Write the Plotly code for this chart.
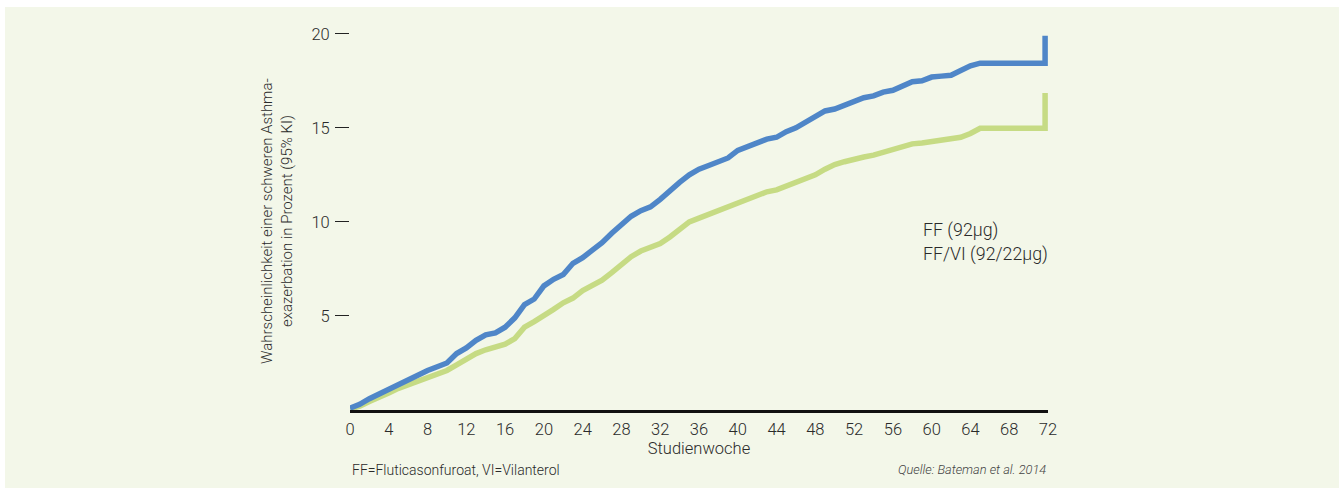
import plotly.graph_objects as go

# ---- data ----
weeks = list(range(0, 66)) + [71.7, 71.7]

ff_92 = [0.1, 0.3, 0.6, 0.85, 1.15, 1.4, 1.65, 1.9, 2.1, 2.3,
         2.5, 3.0, 3.3, 3.7, 4.0, 4.1, 4.4, 4.9, 5.6, 5.9,
         6.6, 6.95, 7.2, 7.8, 8.1, 8.5, 8.9, 9.4, 9.9, 10.3,
         10.6, 10.8, 11.2, 11.7, 12.1, 12.5, 12.8, 13.0, 13.2, 13.4,
         13.8, 14.0, 14.2, 14.4, 14.5, 14.8, 15.0, 15.3, 15.6, 15.9,
         16.0, 16.2, 16.4, 16.6, 16.7, 16.9, 17.0, 17.2, 17.45, 17.5,
         17.7, 17.75, 17.8, 18.05, 18.3, 18.44,
         18.44, 19.9]

ff_vi = [0.05, 0.2, 0.45, 0.65, 0.9, 1.15, 1.35, 1.55, 1.7, 1.9,
         2.1, 2.4, 2.7, 3.0, 3.2, 3.35, 3.5, 3.8, 4.4, 4.7,
         5.0, 5.35, 5.7, 5.95, 6.35, 6.6, 6.9, 7.3, 7.7, 8.15,
         8.45, 8.65, 8.85, 9.2, 9.6, 10.0, 10.2, 10.4, 10.6, 10.8,
         11.0, 11.2, 11.4, 11.6, 11.7, 11.9, 12.05, 12.25, 12.5, 12.8,
         13.05, 13.2, 13.35, 13.45, 13.55, 13.7, 13.85, 14.0, 14.15, 14.2,
         14.27, 14.3, 14.36, 14.5, 14.7, 14.98,
         14.98, 16.85]

series_names = ["FF (92µg)", "FF/VI (92/22µg)"]
x_ticks = list(range(0, 73, 4))
y_ticks = [5, 10, 15, 20]

FONT = "Roboto, Liberation Sans, Arial, sans-serif"
WEIGHT = 300
BLUE = "#4F86C8"
GREEN = "#C6DB84"
BG = "#F3F7E9"
TXT = "#2a2a2a"

fig = go.Figure()
fig.add_trace(go.Scatter(x=weeks, y=ff_vi, mode="lines", name=series_names[1],
                         line=dict(color=GREEN, width=5.5, shape="linear")))
fig.add_trace(go.Scatter(x=weeks, y=ff_92, mode="lines", name=series_names[0],
                         line=dict(color=BLUE, width=5.5, shape="linear")))

L, R, T, B = 350, 1048, 15, 410
W = R - L
H = B - T

def px(xp):
    return (xp - L) / W

def py(yp):
    return (B - yp) / H

def f(size, color=TXT):
    return dict(family=FONT, size=size, color=color, weight=WEIGHT)

fig.update_layout(
    width=1344, height=490,
    margin=dict(l=L, r=1344 - R, t=T, b=490 - B),
    paper_bgcolor="white",
    plot_bgcolor="rgba(0,0,0,0)",
    showlegend=False,
    font=f(16),
    xaxis=dict(range=[0, 72], tickvals=x_ticks, ticks="", showgrid=False,
               zeroline=False, showline=True, linecolor="#111", linewidth=2.5,
               tickfont=f(16.5), ticklabelstandoff=2,
               title=dict(text="Studienwoche", font=f(16.5), standoff=5)),
    yaxis=dict(range=[0, 21], tickvals=y_ticks, ticks="outside", ticklen=14,
               tickwidth=1.3, tickcolor="#222", showgrid=False, zeroline=False,
               showline=False, tickfont=f(16.5), ticklabelstandoff=2),
    shapes=[dict(type="rect", xref="paper", yref="paper", layer="below",
                 x0=px(5), x1=px(1339), y0=py(488), y1=py(7),
                 fillcolor=BG, line=dict(width=0))],
)

annotations = [
    dict(text="Wahrscheinlichkeit einer schweren Asthma-<br>exazerbation in Prozent (95% KI)",
         x=px(277), y=py(221), xref="paper", yref="paper", textangle=-90,
         showarrow=False, xanchor="center", yanchor="middle", font=f(15)),
    dict(text=series_names[0], x=px(921), y=py(230), xref="paper", yref="paper",
         showarrow=False, xanchor="left", yanchor="middle", font=f(17.8)),
    dict(text=series_names[1], x=px(921), y=py(254), xref="paper", yref="paper",
         showarrow=False, xanchor="left", yanchor="middle", font=f(17.8)),
    dict(text="FF=Fluticasonfuroat, VI=Vilanterol", x=px(350), y=py(470),
         xref="paper", yref="paper", showarrow=False, xanchor="left", yanchor="middle",
         font=f(14)),
    dict(text="<i>Quelle: Bateman et al. 2014</i>", x=px(1048), y=py(470),
         xref="paper", yref="paper", showarrow=False, xanchor="right", yanchor="middle",
         font=f(12.8, "#444")),
]
fig.update_layout(annotations=annotations)

fig.write_html("out.html", config={"displayModeBar": False},
               post_script="document.body.style.margin='0';document.body.style.overflow='hidden';")
